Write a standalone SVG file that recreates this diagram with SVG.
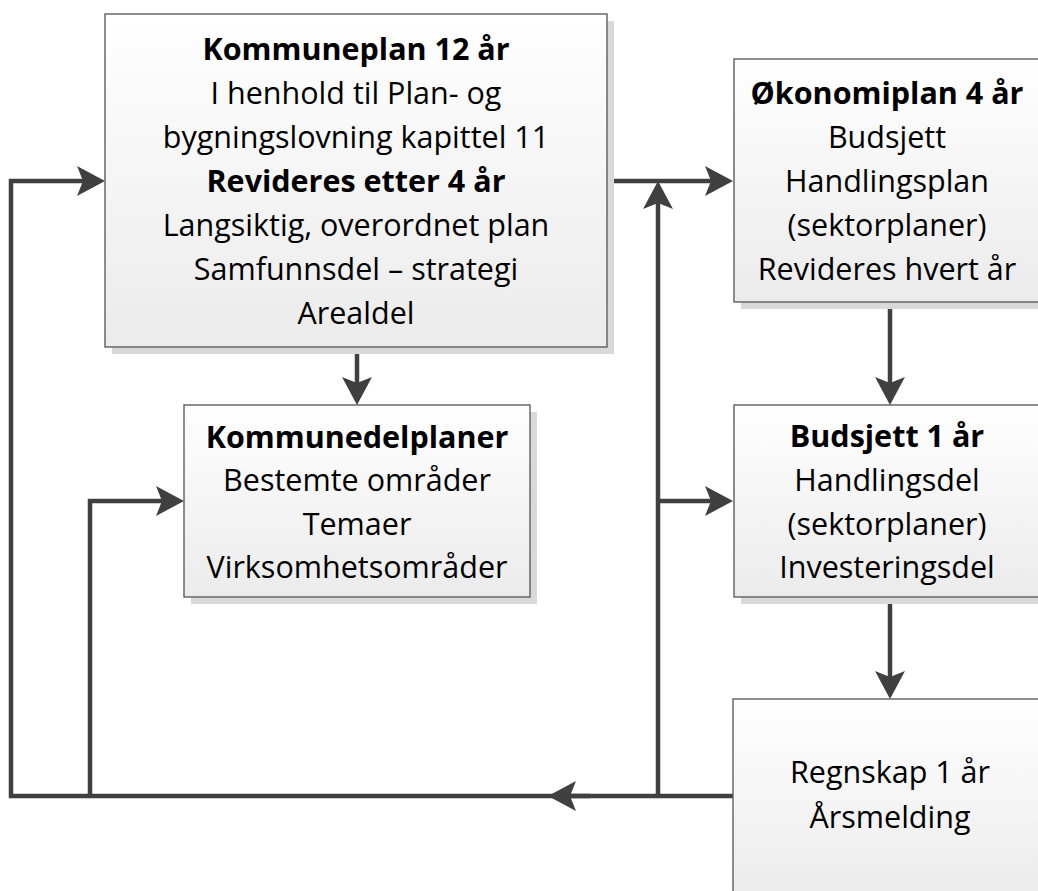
<svg xmlns="http://www.w3.org/2000/svg" width="1038" height="891" viewBox="0 0 1038 891">
<style>
.box{fill:url(#g);stroke:#5e5e5e;stroke-width:1.4}
.sh{fill:#d9d9d9}
.t{font-family:"Open Sans","Noto Sans",sans-serif;font-size:30.5px;fill:#000;text-anchor:middle}
.b{font-weight:bold}
.c{fill:none;stroke:#404040;stroke-width:4.5;stroke-linejoin:miter}
</style>
<defs>
<linearGradient id="g" x1="0" y1="0" x2="0" y2="1">
<stop offset="0" stop-color="#ffffff"/>
<stop offset="1" stop-color="#ebebeb"/>
</linearGradient>
<marker id="a" viewBox="0 0 30 30" markerWidth="30" markerHeight="30" markerUnits="userSpaceOnUse" refX="8" refY="15" orient="auto">
<path d="M30 15 L2 0 L8 15 L2 30 Z" fill="#404040"/>
</marker>
</defs>
<rect width="1038" height="891" fill="#fff"/>
<g id="connectors">
<path class="c" d="M733 796 L11 796 L11 181 L83 181" marker-end="url(#a)"/>
<path class="c" d="M90 796 L90 501 L162 501" marker-end="url(#a)"/>
<path class="c" d="M590 796 L570 796" marker-end="url(#a)"/>
<path class="c" d="M658 796 L658 203" marker-end="url(#a)"/>
<path class="c" d="M658 501 L711 501" marker-end="url(#a)"/>
<path class="c" d="M607 181 L711 181" marker-end="url(#a)"/>
<path class="c" d="M357 347 L357 383" marker-end="url(#a)"/>
<path class="c" d="M890 302 L890 383" marker-end="url(#a)"/>
<path class="c" d="M890 597 L890 677" marker-end="url(#a)"/>
</g>
<g id="kommuneplan">
<rect class="sh" x="112" y="21" width="502" height="333"/>
<rect class="box" x="105" y="14" width="502" height="333"/>
<text class="t b" x="356" y="60">Kommuneplan 12 år</text>
<text class="t" x="356" y="104">I henhold til Plan- og</text>
<text class="t" x="356" y="148">bygningslovning kapittel 11</text>
<text class="t b" x="356" y="192">Revideres etter 4 år</text>
<text class="t" x="356" y="236">Langsiktig, overordnet plan</text>
<text class="t" x="356" y="280">Samfunnsdel – strategi</text>
<text class="t" x="356" y="324">Arealdel</text>
</g>
<g id="kommunedelplaner">
<rect class="sh" x="191" y="412" width="346" height="192"/>
<rect class="box" x="184" y="405" width="346" height="192"/>
<text class="t b" x="357" y="448">Kommunedelplaner</text>
<text class="t" x="357" y="491">Bestemte områder</text>
<text class="t" x="357" y="535">Temaer</text>
<text class="t" x="357" y="578">Virksomhetsområder</text>
</g>
<g id="okonomiplan">
<rect class="sh" x="741" y="66" width="310" height="243"/>
<rect class="box" x="734" y="59" width="306" height="243"/>
<text class="t b" x="887" y="104">Økonomiplan 4 år</text>
<text class="t" x="887" y="148">Budsjett</text>
<text class="t" x="887" y="192">Handlingsplan</text>
<text class="t" x="887" y="236">(sektorplaner)</text>
<text class="t" x="887" y="280">Revideres hvert år</text>
</g>
<g id="budsjett">
<rect class="sh" x="741" y="412" width="310" height="192"/>
<rect class="box" x="734" y="405" width="306" height="192"/>
<text class="t b" x="887" y="447">Budsjett 1 år</text>
<text class="t" x="887" y="491">Handlingsdel</text>
<text class="t" x="887" y="535">(sektorplaner)</text>
<text class="t" x="887" y="578">Investeringsdel</text>
</g>
<g id="regnskap">
<rect class="box" x="733" y="699" width="314" height="200"/>
<text class="t" x="890" y="783">Regnskap 1 år</text>
<text class="t" x="890" y="828">Årsmelding</text>
</g>
</svg>
